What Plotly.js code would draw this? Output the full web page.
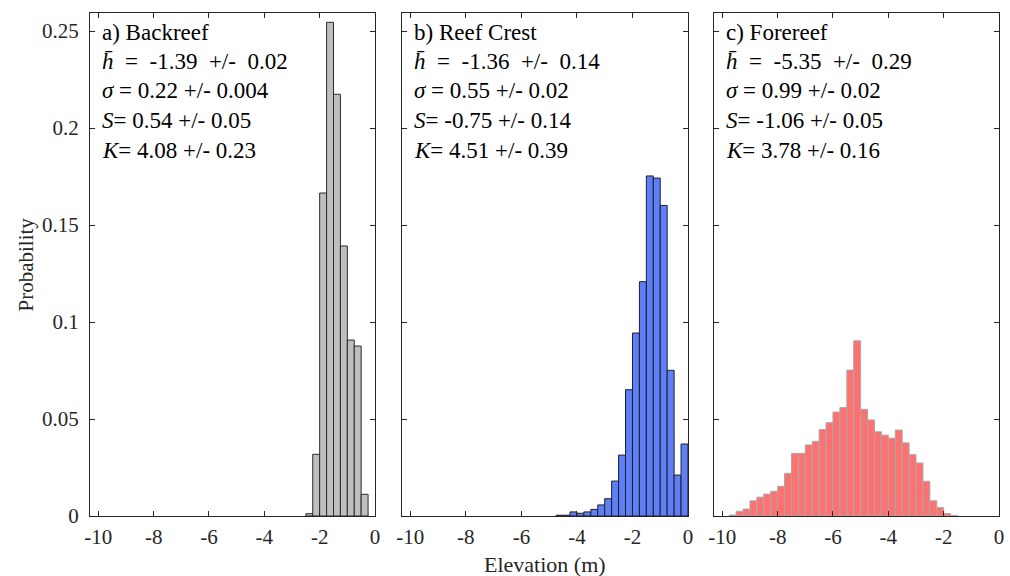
<!DOCTYPE html>
<html>
<head>
<meta charset="utf-8">
<script src="https://cdn.plot.ly/plotly-3.0.1.min.js"></script>
<style>
  html, body { margin: 0; padding: 0; background: #ffffff; }
  #chart { width: 1010px; height: 576px; }
</style>
</head>
<body>
<div id="chart"></div>
<script>
// Elevation histograms (bin width 0.25 m), probability per bin
const binWidth = 0.25;

const backreefElev = [-2.375, -2.125, -1.875, -1.625, -1.375, -1.125, -0.875, -0.625, -0.375];
const backreefProb = [0.0012, 0.0318, 0.1665, 0.2545, 0.2174, 0.1392, 0.0907, 0.0876, 0.0112];

const crestElev = [-4.625, -4.375, -4.125, -3.875, -3.625, -3.375, -3.125, -2.875, -2.625, -2.375,
                   -2.125, -1.875, -1.625, -1.375, -1.125, -0.875, -0.625, -0.375, -0.125];
const crestProb = [0.0004, 0.0004, 0.0021, 0.0014, 0.0021, 0.0034, 0.0057, 0.0089, 0.0180, 0.0314,
                   0.0651, 0.0943, 0.1208, 0.1753, 0.1742, 0.1601, 0.0751, 0.0211, 0.0371];

const forereefElev = [-9.625, -9.375, -9.125, -8.875, -8.625, -8.375, -8.125, -7.875, -7.625, -7.375,
                      -7.125, -6.875, -6.625, -6.375, -6.125, -5.875, -5.625, -5.375, -5.125, -4.875,
                      -4.625, -4.375, -4.125, -3.875, -3.625, -3.375, -3.125, -2.875, -2.625, -2.375,
                      -2.125, -1.875, -1.625];
const forereefProb = [0.0005, 0.0024, 0.0036, 0.0078, 0.0097, 0.0113, 0.0127, 0.0153, 0.0220, 0.0323,
                      0.0323, 0.0366, 0.0385, 0.0446, 0.0481, 0.0536, 0.0559, 0.0752, 0.0903, 0.0550,
                      0.0495, 0.0434, 0.0417, 0.0401, 0.0443, 0.0377, 0.0316, 0.0273, 0.0179, 0.0078,
                      0.0043, 0.0012, 0.0003];

// Axis ticks
const xTickVals = [-10, -8, -6, -4, -2, 0];
const xTickText = ['-10', '-8', '-6', '-4', '-2', '0'];
const yTickVals = [0, 0.05, 0.1, 0.15, 0.2, 0.25];
const yTickText = ['0', '0.05', '0.1', '0.15', '0.2', '0.25'];

// Panel statistics text
const panelTitles = ['a) Backreef', 'b) Reef Crest', 'c) Forereef'];
const meanText  = ['-1.39', '-1.36', '-5.35'];
const meanErr   = ['0.02', '0.14', '0.29'];
const sigmaText = ['0.22 +/- 0.004', '0.55 +/- 0.02', '0.99 +/- 0.02'];
const skewText  = ['0.54 +/- 0.05', '-0.75 +/- 0.14', '-1.06 +/- 0.05'];
const kurtText  = ['4.08 +/- 0.23', '4.51 +/- 0.39', '3.78 +/- 0.16'];

const W = 1010, H = 576;
const FONT = '"Liberation Serif", "Times New Roman", serif';
const AX = '#262626';

// plot boxes in pixels: [left, right]
const boxes = [[90, 375], [402, 688], [714, 999]];
const boxTop = 13, boxBottom = 516;
const px = v => v / W;
const py = v => 1 - v / H;

const traces = [
  { x: backreefElev, y: backreefProb, xaxis: 'x', yaxis: 'y',
    fill: '#bfbfbf', line: '#2b2b2b' },
  { x: crestElev, y: crestProb, xaxis: 'x2', yaxis: 'y2',
    fill: '#5e7ff6', line: '#1f1f2a' },
  { x: forereefElev, y: forereefProb, xaxis: 'x3', yaxis: 'y3',
    fill: '#ff7070', line: '#a8a8a8' }
].map(t => ({
  type: 'bar',
  x: t.x, y: t.y, width: binWidth,
  xaxis: t.xaxis, yaxis: t.yaxis,
  marker: { color: t.fill, line: { color: t.line, width: 1 } },
  hoverinfo: 'x+y', showlegend: false
}));

function xAxis(i) {
  return {
    domain: [px(boxes[i][0]), px(boxes[i][1])],
    range: [-10.3, 0],
    anchor: i === 0 ? 'y' : 'y' + (i + 1),
    tickvals: xTickVals, ticktext: xTickText,
    ticks: 'inside', ticklen: 5, tickwidth: 1, tickcolor: AX,
    mirror: 'ticks', showline: true, linecolor: AX, linewidth: 1,
    showgrid: false, zeroline: false,
    tickfont: { family: FONT, size: 21, color: AX },
    ticklabelstandoff: 2,
    fixedrange: true
  };
}
function yAxis(i) {
  return {
    domain: [py(boxBottom), py(boxTop)],
    range: [0, 0.2593],
    anchor: i === 0 ? 'x' : 'x' + (i + 1),
    tickvals: yTickVals, ticktext: yTickText,
    showticklabels: i === 0,
    ticks: 'inside', ticklen: 5, tickwidth: 1, tickcolor: AX,
    mirror: 'ticks', showline: true, linecolor: AX, linewidth: 1,
    showgrid: false, zeroline: false,
    tickfont: { family: FONT, size: 21, color: AX },
    ticklabelstandoff: 6,
    fixedrange: true
  };
}

const SP = '&nbsp;';
const annotations = [];
const lineY = [33, 61, 90, 120, 150];
for (let i = 0; i < 3; i++) {
  const lines = [
    panelTitles[i],
    '<i>h\u0304</i>' + SP + SP + '=' + SP + SP + meanText[i] + SP + SP + '+/-' + SP + SP + meanErr[i],
    '<i>\u03c3</i> = ' + sigmaText[i],
    '<i>S</i>= ' + skewText[i],
    '<i>K</i>= ' + kurtText[i]
  ];
  lines.forEach((txt, k) => {
    annotations.push({
      xref: 'paper', yref: 'paper',
      x: px(boxes[i][0] + 10), y: py(lineY[k]),
      xanchor: 'left', yanchor: 'middle',
      text: txt, showarrow: false,
      font: { family: FONT, size: 23, color: '#000000' }
    });
  });
}

// Shared axis titles
annotations.push({
  xref: 'paper', yref: 'paper', x: px(25), y: py((boxTop + boxBottom) / 2),
  text: 'Probability', textangle: -90, showarrow: false,
  xanchor: 'center', yanchor: 'middle',
  font: { family: FONT, size: 21, color: AX }
});
annotations.push({
  xref: 'paper', yref: 'paper', x: px((boxes[1][0] + boxes[1][1]) / 2), y: py(564),
  text: 'Elevation (m)', showarrow: false,
  xanchor: 'center', yanchor: 'middle',
  font: { family: FONT, size: 22, color: AX }
});

const layout = {
  width: W, height: H,
  margin: { l: 0, r: 0, t: 0, b: 0 },
  paper_bgcolor: '#ffffff', plot_bgcolor: '#ffffff',
  showlegend: false,
  bargap: 0,
  xaxis: xAxis(0), xaxis2: xAxis(1), xaxis3: xAxis(2),
  yaxis: yAxis(0), yaxis2: yAxis(1), yaxis3: yAxis(2),
  annotations: annotations
};

Plotly.newPlot('chart', traces, layout, { displayModeBar: false, staticPlot: true });
</script>
</body>
</html>
